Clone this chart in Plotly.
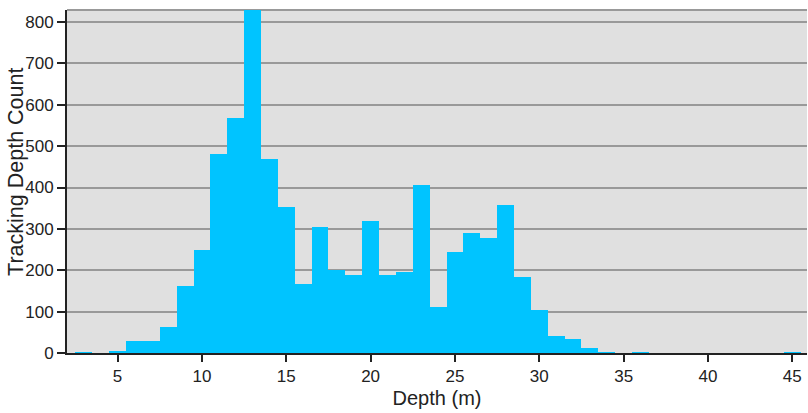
import plotly.graph_objects as go

depth_bins = [3, 5, 6, 7, 8, 9, 10, 11, 12, 13, 14, 15, 16, 17, 18, 19, 20, 21, 22,
              23, 24, 25, 26, 27, 28, 29, 30, 31, 32, 33, 34, 36, 45]
counts = [1, 4, 28, 28, 64, 163, 250, 480, 569, 835, 470, 354, 166, 304, 200, 188, 318, 188, 195,
          407, 110, 243, 291, 279, 357, 183, 105, 40, 33, 11, 1, 1, 1]
x_ticks = [5, 10, 15, 20, 25, 30, 35, 40, 45]
y_ticks = [0, 100, 200, 300, 400, 500, 600, 700, 800]

FONT = "Liberation Sans, Arial, sans-serif"

fig = go.Figure(go.Bar(
    x=depth_bins, y=counts, width=1,
    marker=dict(color="#00C4FF", line=dict(width=0)),
))

fig.update_layout(
    width=808, height=413,
    margin=dict(l=67, r=1, t=10, b=60),
    paper_bgcolor="white",
    plot_bgcolor="#E0E0E0",
    bargap=0,
    showlegend=False,
    font=dict(family=FONT, size=17, color="#222222"),
    xaxis=dict(
        range=[2.0, 45.87],
        tickvals=x_ticks,
        ticks="outside", ticklen=7, tickwidth=2, tickcolor="#222222",
        showgrid=False, zeroline=False,
        showline=True, linecolor="#222222", linewidth=2,
        layer="below traces",
        title=dict(text="Depth (m)", font=dict(size=20, family=FONT), standoff=6),
        tickfont=dict(size=17),
    ),
    yaxis=dict(
        range=[0, 829],
        tickvals=y_ticks,
        ticks="outside", ticklen=8, tickwidth=2, tickcolor="#222222",
        showgrid=True, gridcolor="#999999", gridwidth=2,
        zeroline=False,
        showline=True, linecolor="#222222", linewidth=2,
        layer="below traces",
        tickfont=dict(size=17),
    ),
    annotations=[dict(
        text="Tracking Depth Count", textangle=-90,
        xref="paper", yref="paper", x=0, y=0.528,
        xanchor="center", yanchor="middle", xshift=-51,
        showarrow=False, font=dict(size=21.5, family=FONT, color="#222222"),
    )],
    shapes=[dict(type="line", xref="paper", yref="paper", x0=0, x1=1, y0=1, y1=1,
                 line=dict(color="#999999", width=2), layer="below")],
)

fig.write_html("out.html")
